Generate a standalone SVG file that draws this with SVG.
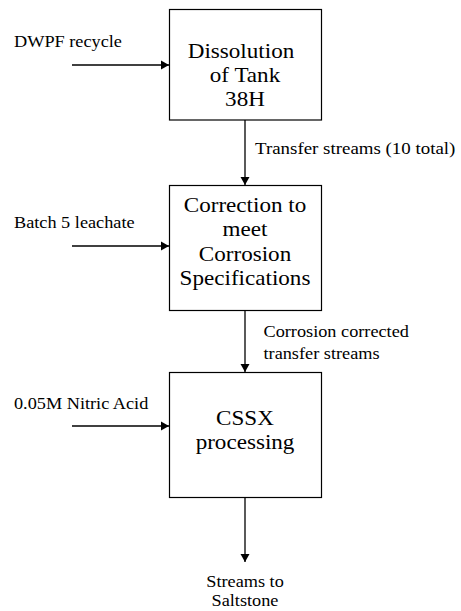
<svg xmlns="http://www.w3.org/2000/svg" width="461" height="611" viewBox="0 0 461 611">
  <style>
    .box { fill: #ffffff; stroke: #000000; stroke-width: 1.2; }
    .flow { stroke: #000000; stroke-width: 1.3; fill: none; marker-end: url(#head); }
    text { font-family: "Liberation Serif", "Times New Roman", serif; fill: #000000; }
    .lbl { font-size: 16.6px; }
    .big { font-size: 21px; text-anchor: middle; }
  </style>
  <defs>
    <marker id="head" markerWidth="10" markerHeight="10" refX="8" refY="5" orient="auto" markerUnits="userSpaceOnUse">
      <path d="M0,0.5 L8,5 L0,9.5 Z" fill="#000000"/>
    </marker>
  </defs>
  <rect width="461" height="611" fill="#ffffff"/>

  <!-- connectors -->
  <g id="connectors">
    <line class="flow" x1="72" y1="65" x2="169" y2="65"/>
    <line class="flow" x1="245" y1="120" x2="245" y2="185"/>
    <line class="flow" x1="72" y1="246" x2="169" y2="246"/>
    <line class="flow" x1="245" y1="311" x2="245" y2="372"/>
    <line class="flow" x1="72" y1="426" x2="169" y2="426"/>
    <line class="flow" x1="245" y1="498" x2="245" y2="562"/>
  </g>

  <!-- process steps -->
  <g id="dissolution">
    <rect class="box" x="169.5" y="9.5" width="152" height="110.5"/>
    <text class="big" transform="translate(241,58) scale(1.1,1)">Dissolution</text>
    <text class="big" transform="translate(245,82) scale(1.1,1)">of Tank</text>
    <text class="big" transform="translate(245,106) scale(1.1,1)">38H</text>
  </g>
  <g id="correction">
    <rect class="box" x="169.5" y="185.5" width="152" height="125"/>
    <text class="big" transform="translate(245,211.5) scale(1.1,1)">Correction to</text>
    <text class="big" transform="translate(245,236) scale(1.1,1)">meet</text>
    <text class="big" transform="translate(245,260.5) scale(1.1,1)">Corrosion</text>
    <text class="big" transform="translate(245,285) scale(1.1,1)">Specifications</text>
  </g>
  <g id="cssx">
    <rect class="box" x="169.5" y="372.5" width="152" height="125"/>
    <text class="big" transform="translate(245,424.5) scale(1.1,1)">CSSX</text>
    <text class="big" transform="translate(245,449) scale(1.1,1)">processing</text>
  </g>

  <!-- stream labels -->
  <g id="inputs">
    <text class="lbl" transform="translate(14,46.5) scale(1.1,1)">DWPF recycle</text>
    <text class="lbl" transform="translate(14,227.5) scale(1.1,1)">Batch 5 leachate</text>
    <text class="lbl" transform="translate(14,408.5) scale(1.1,1)">0.05M Nitric Acid</text>
  </g>
  <g id="transfer-labels">
    <text class="lbl" transform="translate(255,154) scale(1.14,1)">Transfer streams (10 total)</text>
    <text class="lbl" transform="translate(263.5,336.5) scale(1.1,1)">Corrosion corrected</text>
    <text class="lbl" transform="translate(263.5,359) scale(1.1,1)">transfer streams</text>
  </g>
  <g id="saltstone">
    <text class="lbl" text-anchor="middle" transform="translate(245,587) scale(1.1,1)">Streams to</text>
    <text class="lbl" text-anchor="middle" transform="translate(245,606) scale(1.1,1)">Saltstone</text>
  </g>
</svg>
